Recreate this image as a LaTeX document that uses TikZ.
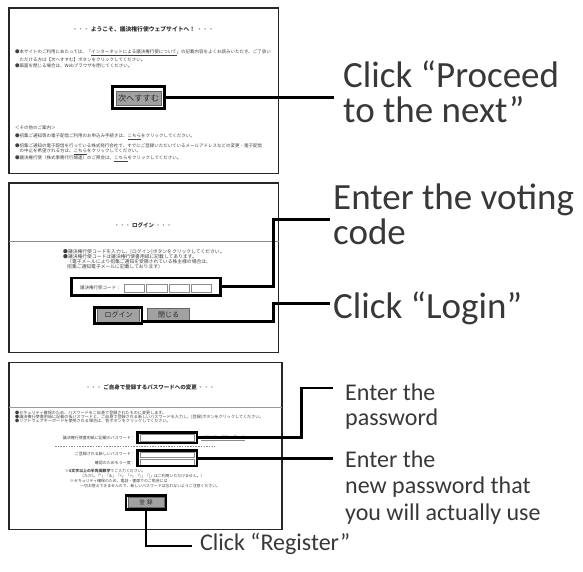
\documentclass[tikz,border=0pt]{standalone}
\usepackage{fontspec}
\newfontfamily\jp{Noto Sans CJK JP}
\newfontfamily\annot{Carlito}
\usetikzlibrary{calc}

\begin{document}
\begin{tikzpicture}[x=1pt,y=-1pt,
  screen/.style={draw=black!85,line width=1.7pt},
  hilite/.style={draw=black,line width=2.6pt,inner sep=0pt},
  leader/.style={draw=black,line width=2.8pt},
  rule/.style={draw=black!45,line width=1pt},
  ui/.style={inner sep=0pt,anchor=west,text=black!75,font=\jp\fontsize{4.5}{5}\selectfont},
  uism/.style={ui,font=\jp\fontsize{4}{4.5}\selectfont},
  uititle/.style={inner sep=0pt,text=black!80,font=\jp\bfseries\fontsize{5.8}{6}\selectfont},
  button/.style={draw=black!60,fill=black!37,line width=0.6pt,inner sep=0pt,text=black!85,font=\jp\fontsize{7}{8}\selectfont},
  field/.style={draw=black!45,fill=white,line width=0.5pt,inner sep=0pt},
  big/.style={inner sep=0pt,anchor=base west,text=black!78,font=\annot\fontsize{37}{37}\selectfont},
  small/.style={inner sep=0pt,anchor=base west,text=black!78,font=\annot\fontsize{24}{24}\selectfont},
]
\useasboundingbox (0,0) rectangle (583,571);

% ---------- welcome page ----------
\draw[screen] (9,8) rectangle (278.5,173.5);
\node[uititle] (welcome) at (143,29.3) {\textcolor{black!40}{・・・}\ ようこそ、議決権行使ウェブサイトへ！\ \textcolor{black!40}{・・・}};
\node[ui] (w1) at (15,52.5) {●本サイトのご利用にあたっては、「\underline{インターネットによる議決権行使について}」の記載内容をよくお読みいただき、ご了承い};
\node[ui] (w2) at (19.5,59.5) {ただける方は【次へすすむ】ボタンをクリックしてください。};
\node[ui] (w3) at (15,66) {●画面を閉じる場合は、Webブラウザを閉じてください。};
\node[button,minimum width=45pt,minimum height=14pt,font=\jp\fontsize{8.2}{9}\selectfont] (next) at (138.5,98) {次へすすむ};
\node[hilite,minimum width=52.4pt,minimum height=22.4pt] (nextHL) at (138.5,97.5) {};
\node[ui] (w4) at (15,128) {＜その他のご案内＞};
\node[ui] (w5) at (15,137) {●招集ご通知等の電子配信ご利用のお申込み手続きは、\underline{こちら}をクリックしてください。};
\node[ui] (w6) at (15,146) {●招集ご通知の電子配信を行っている株式発行会社で、すでにご登録いただいているメールアドレスなどの変更・電子配信};
\node[ui] (w7) at (19.5,152) {の中止を希望される方は、\underline{こちら}をクリックしてください。};
\node[ui] (w8) at (15,159) {●議決権行使（株式事務代行関連）のご照会は、\underline{こちら}をクリックしてください。};

\node[big] (proceedA) at (343,87) {Click “Proceed};
\node[big] (proceedB) at (343,122) {to the next”};
\coordinate (proceedEnd) at (334,97.5);
\draw[leader] (nextHL.east) -- (proceedEnd);

% ---------- login page ----------
\draw[screen] (9,183) rectangle (278.5,352.5);
\draw[rule] (9,241.7) -- (278.5,241.7);
\node[uititle,font=\jp\bfseries\fontsize{5.5}{6}\selectfont] (logintitle) at (143,225) {\textcolor{black!40}{・・・}\ ログイン\ \textcolor{black!40}{・・・}};
\node[ui,font=\jp\fontsize{4.8}{5}\selectfont] (l1) at (63,252) {●議決権行使コードを入力し、[ログイン]ボタンをクリックしてください。};
\node[ui,font=\jp\fontsize{4.8}{5}\selectfont] (l2) at (63,257) {●議決権行使コードは議決権行使書用紙に記載してあります。};
\node[ui,font=\jp\fontsize{4.8}{5}\selectfont] (l3) at (67,262) {（電子メールにより招集ご通知を受領されている株主様の場合は、};
\node[ui,font=\jp\fontsize{4.8}{5}\selectfont] (l4) at (67,267) {招集ご通知電子メールに記載しております）};
\node[ui] (codelabel) at (80,288) {議決権行使コード：};
\node[field,minimum width=20pt,minimum height=7.5pt] (c1) at (134.5,288) {};
\node[field,minimum width=21pt,minimum height=7.5pt] (c2) at (157,288) {};
\node[field,minimum width=20pt,minimum height=7.5pt] (c3) at (179,288) {};
\node[field,minimum width=19.5pt,minimum height=7.5pt] (c4) at (201,288) {};
\node[hilite,minimum width=149pt,minimum height=17.5pt] (codeHL) at (145.8,286.7) {};
\node[button,minimum width=41.6pt,minimum height=15pt] (login) at (118.5,315.2) {ログイン};
\node[button,minimum width=41.6pt,minimum height=14pt] (close) at (168.5,315) {閉じる};
\node[hilite,minimum width=47.5pt,minimum height=16.5pt] (loginHL) at (118.3,315.5) {};

\node[big] (votingA) at (333,209) {Enter the voting};
\node[big] (votingB) at (333,244) {code};
\node[big] (loginText) at (333,318) {Click “Login”};
\coordinate (codeKnee) at (273.3,219.5);
\coordinate (codeEnd) at (330,219.5);
\draw[leader] (codeHL.east) -| (codeKnee) -- (codeEnd);
\coordinate (loginKnee) at (273.3,303.5);
\coordinate (loginEnd) at (330,303.5);
\draw[leader] ($(loginHL.south east)+(0,-3.5)$) -| (loginKnee) -- (loginEnd);

% ---------- password page ----------
\draw[screen] (9,362.5) rectangle (282,529.5);
\draw[rule,draw=black!40,line width=1.5pt] (9,407.7) -- (282,407.7);
\node[uititle,font=\jp\bfseries\fontsize{5.5}{6}\selectfont] (pwtitle) at (150,387.7) {\textcolor{black!40}{・・・}\ ご自身で登録するパスワードへの変更\ \textcolor{black!40}{・・・}};
\node[uism,font=\jp\fontsize{4.1}{4.5}\selectfont] (p1) at (15,413) {●セキュリティ確保のため、パスワードをご自身で登録されたものに変更します。};
\node[uism,font=\jp\fontsize{4.1}{4.5}\selectfont] (p2) at (15,417) {●議決権行使書用紙に記載の仮パスワードと、ご自身で登録される新しいパスワードを入力し、[登録]ボタンをクリックしてください。};
\node[uism,font=\jp\fontsize{4.1}{4.5}\selectfont] (p3) at (15,421) {●ソフトウェアキーボードを使用される場合は、各ボタンをクリックしてください。};
\node[uism,anchor=east] (pwlabel) at (135,438) {議決権行使書用紙に記載のパスワード：};
\node[field,minimum width=54pt,minimum height=7pt] (pwfield) at (167.5,437.7) {};
\node[uism,text=black!45] (softkey) at (201,438) {\underline{ソフトウェアキーボード}};
\draw[black!45,line width=0.5pt,dash pattern=on 1.5pt off 1.2pt] (55,446.7) -- (215,446.7);
\node[uism,anchor=east] (newlabel) at (135,454.3) {ご登録される新しいパスワード：};
\node[uism,anchor=east] (againlabel) at (135,462.7) {確認のためもう一度：};
\node[field,minimum width=54pt,minimum height=5.5pt] (newfield) at (167.5,454.5) {};
\node[field,minimum width=54pt,minimum height=5.5pt] (againfield) at (167.5,462.3) {};
\node[hilite,minimum width=59.7pt,minimum height=10.7pt] (pwHL) at (167.2,437.7) {};
\node[hilite,minimum width=59.7pt,minimum height=15.4pt] (newHL) at (167.2,458.3) {};
\node[uism,font=\jp\fontsize{3.9}{4.5}\selectfont] (n1) at (65,471) {※\textbf{6文字以上の半角英数字}でご入力ください。};
\node[uism,font=\jp\fontsize{3.9}{4.5}\selectfont] (n2) at (80,476) {（ただし「"」「\&」「<」「>」「\textbackslash」「|」はご利用いただけません。）};
\node[uism,font=\jp\fontsize{3.9}{4.5}\selectfont] (n3) at (70,481) {※セキュリティ確保のため、電話・書面でのご照会には};
\node[uism,font=\jp\fontsize{3.9}{4.5}\selectfont] (n4) at (80,485.5) {一切お答えできませんので、新しいパスワードは忘れないようご注意ください。};
\node[button,minimum width=35.6pt,minimum height=10pt,font=\jp\fontsize{5.5}{6}\selectfont] (register) at (146,502.7) {登\ \ 録};
\node[hilite,minimum width=40pt,minimum height=14pt] (regHL) at (146,502.7) {};

\node[small] (pwA) at (345,400) {Enter the};
\node[small] (pwB) at (345,425) {password};
\node[small] (newA) at (345,467) {Enter the};
\node[small] (newB) at (345,493.5) {new password that};
\node[small] (newC) at (345,520) {you will actually use};
\node[small] (regText) at (200,550) {Click “Register”};
\coordinate (pwKnee) at (301.7,388);
\coordinate (pwEnd) at (333.3,388);
\draw[leader] (pwHL.east) -| (pwKnee) -- (pwEnd);
\coordinate (newEnd) at (333.3,458.3);
\draw[leader] (newHL.east) -- (newEnd);
\coordinate (regEnd) at (192,546);
\draw[leader] (regHL.south) |- (regEnd);
\end{tikzpicture}
\end{document}
